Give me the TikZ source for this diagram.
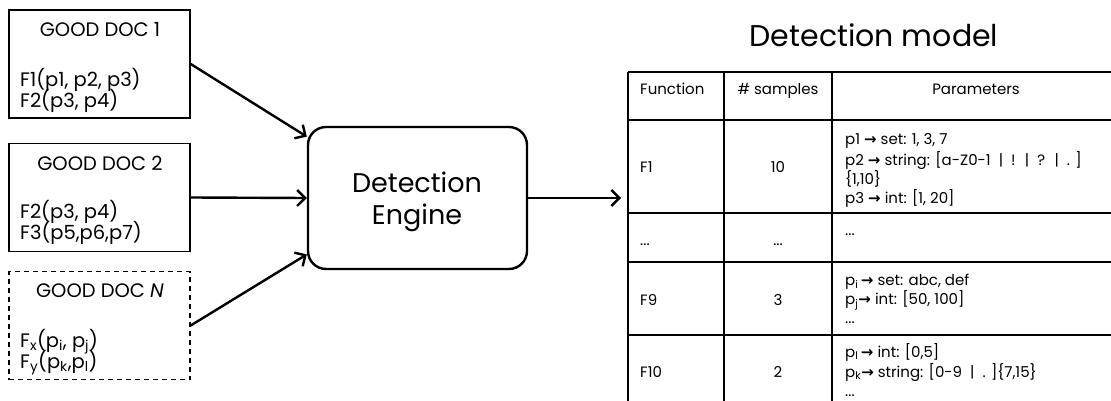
\documentclass[tikz,border=0pt]{standalone}
\usepackage{fontspec}
\setmainfont{Poppins}
\newfontfamily\symf{DejaVu Sans}
\usetikzlibrary{arrows.meta,calc}
\newcommand{\rar}{{\symf\bfseries →}}
\newcommand{\sub}[1]{\textsubscript{#1}}
\begin{document}
\begin{tikzpicture}[x=1pt,y=-1pt,
  docbox/.style={draw,line width=1.4pt,minimum width=181pt,minimum height=108pt,inner sep=0pt},
  engbox/.style={draw,line width=2.4pt,rounded corners=18pt,minimum width=219pt,minimum height=142pt,inner sep=0pt},
  arr/.style={line width=2.4pt,-{Straight Barb[length=8pt,width=16pt,line width=2.4pt]}},
  tbl/.style={line width=1.3pt},
  doct/.style={font=\fontsize{19.5}{23}\selectfont,inner sep=0pt},
  engt/.style={font=\fontsize{27}{31}\selectfont,inner sep=0pt},
  titt/.style={font=\fontsize{30}{34}\selectfont,inner sep=0pt},
  tt/.style={font=\fontsize{15}{18}\selectfont,inner sep=0pt}]
\useasboundingbox (0,0) rectangle (1111,401);
% documents
\node[docbox] (doc1) at (99.5,64) {};
\node[docbox] (doc2) at (99.5,197.5) {};
\node[docbox,dashed,dash pattern=on 5pt off 4pt] (docn) at (99.5,325.5) {};
\node[doct,anchor=base] (d1h) at (100,37) {GOOD DOC 1};
\node[doct,anchor=base west] (d1a) at (20,87) {F1(p1, p2, p3)};
\node[doct,anchor=base west] (d1b) at (20,108) {F2(p3, p4)};
\node[doct,anchor=base] (d2h) at (100,170) {GOOD DOC 2};
\node[doct,anchor=base west] (d2a) at (20,218) {F2(p3, p4)};
\node[doct,anchor=base west] (d2b) at (20,239) {F3(p5,p6,p7)};
\node[doct,anchor=base] (dnh) at (100,297) {GOOD DOC \textit{N}};
\node[doct,anchor=base west] (dna) at (20,347) {F\sub{x}(p\sub{i}, p\sub{j})};
\node[doct,anchor=base west] (dnb) at (20,368) {F\sub{y}(p\sub{k},p\sub{l})};
% engine
\node[engbox] (eng) at (417.5,198) {};
\node[engt,anchor=base] (engA) at (417,193) {Detection};
\node[engt,anchor=base] (engB) at (417,224) {Engine};
\coordinate (tin) at (621,198);
\draw[arr] (doc1.east) -- (eng.151.7);
\draw[arr] (doc2.east) -- (eng.west);
\draw[arr] (docn.east) -- (eng.207.1);
\draw[arr] (eng.east) -- (eng.east -| tin);
% title
\node[titt,anchor=base] (title) at (874,47) {Detection model};
% table
\draw[tbl] (628,72) -- (1112,72) (628,120) -- (1112,120) (628,213) -- (1112,213)
  (628,262) -- (1112,262) (628,335) -- (1112,335)
  (628,72) -- (628,402) (724,72) -- (724,402) (832,72) -- (832,402);
\node[tt,anchor=base west] (hf) at (640,95) {Function};
\node[tt,anchor=base] (hs) at (778,95) {\# samples};
\node[tt,anchor=base] (hp) at (976,95) {Parameters};
\node[tt,anchor=base west] (f1) at (640,172) {F1};
\node[tt,anchor=base] (s1) at (778,172) {10};
\node[tt,anchor=base west] (p1a) at (845,145) {p1 \rar\ set: 1, 3, 7};
\node[tt,anchor=base west] (p1b) at (845,165) {p2 \rar\ string: [a-Z0-1 \ | \ ! \ | \ ? \ | \ . ]};
\node[tt,anchor=base west] (p1c) at (845,184) {\{1,10\}};
\node[tt,anchor=base west] (p1d) at (845,203) {p3 \rar\ int: [1, 20]};
\node[tt,anchor=base west] (f2) at (640,245) {...};
\node[tt,anchor=base] (s2) at (778,245) {...};
\node[tt,anchor=base west] (p2a) at (845,235) {...};
\node[tt,anchor=base west] (f9) at (640,305) {F9};
\node[tt,anchor=base] (s9) at (778,305) {3};
\node[tt,anchor=base west] (p9a) at (845,285) {p\sub{i}\,\rar\ set: abc, def};
\node[tt,anchor=base west] (p9b) at (845,304) {p\sub{j}\rar\ int: [50, 100]};
\node[tt,anchor=base west] (p9c) at (845,323) {...};
\node[tt,anchor=base west] (f10) at (640,377) {F10};
\node[tt,anchor=base] (s10) at (778,377) {2};
\node[tt,anchor=base west] (pAa) at (845,357) {p\sub{l}\,\rar\ int: [0,5]};
\node[tt,anchor=base west] (pAb) at (845,377) {p\sub{k}\rar\ string: [0-9 \ | \ . ]\{7,15\}};
\node[tt,anchor=base west] (pAc) at (845,396) {...};
\end{tikzpicture}
\end{document}
